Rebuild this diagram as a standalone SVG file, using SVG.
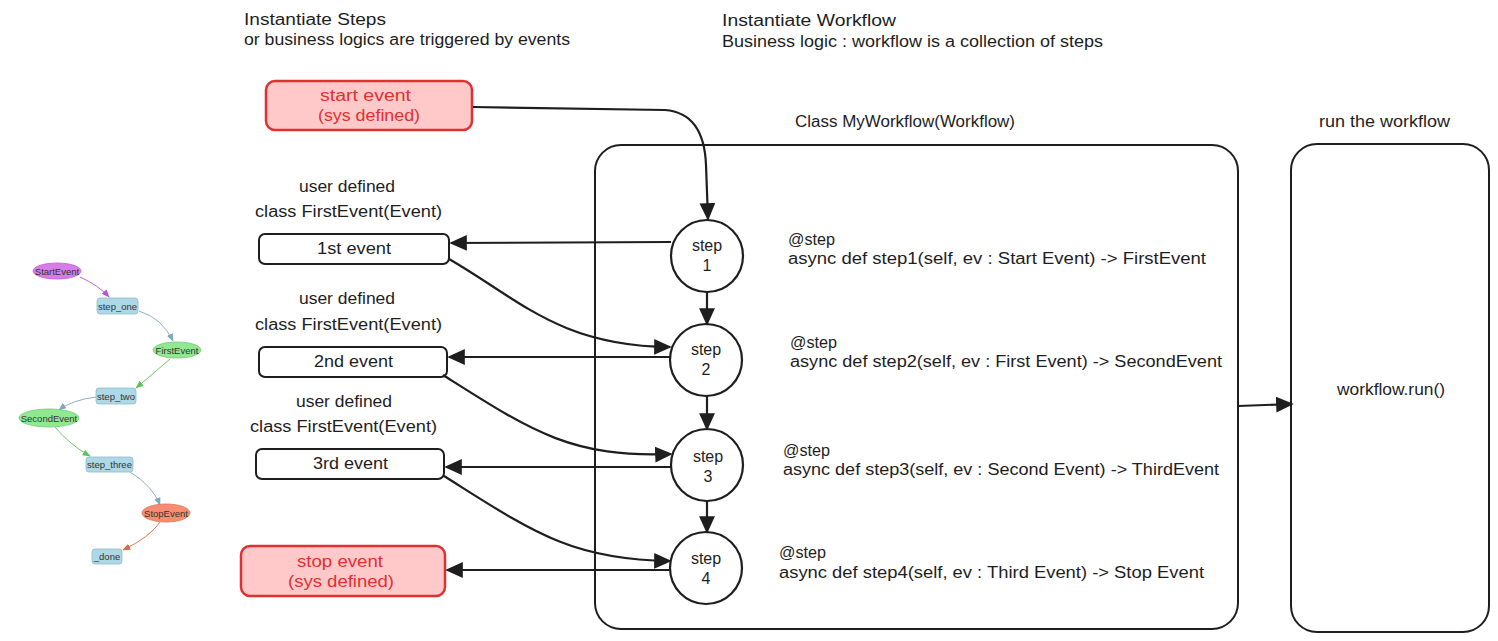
<svg xmlns="http://www.w3.org/2000/svg" width="1498" height="641" viewBox="0 0 1498 641">
<defs>
<style>
.t{font-family:"Liberation Sans","DejaVu Sans",sans-serif;font-size:16px;fill:#1e1e1e}
.c{text-anchor:middle}
.r{fill:#e03131}
.box{fill:#fff;stroke:#1e1e1e;stroke-width:2}
.rbox{fill:#ffc9c9;stroke:#e03131;stroke-width:2.5}
.circ{fill:#fff;stroke:#1e1e1e;stroke-width:2.2}
.con{fill:none;stroke:#1e1e1e;stroke-width:2.2}
.g{font-family:"Liberation Sans","DejaVu Sans",sans-serif;font-size:9.5px;fill:#333;text-anchor:middle}
.gl{fill:none;stroke-width:0.9}
</style>
<marker id="ah" viewBox="0 0 10 10" refX="9" refY="5" markerWidth="8" markerHeight="8" markerUnits="strokeWidth" orient="auto">
<path d="M0,0.5 L10,5 L0,9.5 z" fill="#1e1e1e"/>
</marker>
<marker id="gp" viewBox="0 0 10 10" refX="9" refY="5" markerWidth="9" markerHeight="9" markerUnits="strokeWidth" orient="auto"><path d="M0,1 L10,5 L0,9 z" fill="#b84fd8"/></marker>
<marker id="gb" viewBox="0 0 10 10" refX="9" refY="5" markerWidth="9" markerHeight="9" markerUnits="strokeWidth" orient="auto"><path d="M0,1 L10,5 L0,9 z" fill="#7fa8bd"/></marker>
<marker id="gg" viewBox="0 0 10 10" refX="9" refY="5" markerWidth="9" markerHeight="9" markerUnits="strokeWidth" orient="auto"><path d="M0,1 L10,5 L0,9 z" fill="#5cc25c"/></marker>
<marker id="go" viewBox="0 0 10 10" refX="9" refY="5" markerWidth="9" markerHeight="9" markerUnits="strokeWidth" orient="auto"><path d="M0,1 L10,5 L0,9 z" fill="#e0663f"/></marker>
</defs>
<rect width="1498" height="641" fill="#fff"/>

<!-- headings -->
<g id="heading-steps">
<text class="t" x="244" y="25" textLength="142" lengthAdjust="spacingAndGlyphs">Instantiate Steps</text>
<text class="t" x="244" y="45" textLength="326" lengthAdjust="spacingAndGlyphs">or business logics are triggered by events</text>
</g>
<g id="heading-workflow">
<text class="t" x="722" y="26" textLength="174" lengthAdjust="spacingAndGlyphs">Instantiate  Workflow</text>
<text class="t" x="722" y="47" textLength="381" lengthAdjust="spacingAndGlyphs">Business logic : workflow is a collection of steps</text>
</g>

<!-- workflow container -->
<g id="workflow-box">
<text class="t" x="795" y="127" textLength="220" lengthAdjust="spacingAndGlyphs">Class MyWorkflow(Workflow)</text>
<rect class="box" x="595" y="145" width="643" height="484" rx="26"/>
<text class="t" x="788" y="245" textLength="47" lengthAdjust="spacingAndGlyphs">@step</text>
<text class="t" x="788" y="264" textLength="418" lengthAdjust="spacingAndGlyphs">async def step1(self, ev : Start Event) -> FirstEvent</text>
<text class="t" x="790" y="348" textLength="47" lengthAdjust="spacingAndGlyphs">@step</text>
<text class="t" x="790" y="367" textLength="432" lengthAdjust="spacingAndGlyphs">async def step2(self, ev : First Event) -> SecondEvent</text>
<text class="t" x="783" y="456" textLength="47" lengthAdjust="spacingAndGlyphs">@step</text>
<text class="t" x="783" y="475" textLength="436" lengthAdjust="spacingAndGlyphs">async def step3(self, ev : Second Event) -> ThirdEvent</text>
<text class="t" x="779" y="558" textLength="47" lengthAdjust="spacingAndGlyphs">@step</text>
<text class="t" x="779" y="578" textLength="425" lengthAdjust="spacingAndGlyphs">async def step4(self, ev : Third Event) -> Stop Event</text>
</g>

<g id="run-box">
<text class="t" x="1319" y="127" textLength="131" lengthAdjust="spacingAndGlyphs">run the workflow</text>
<rect class="box" x="1291" y="144" width="198" height="488" rx="26"/>
<text class="t" x="1337" y="395" textLength="108" lengthAdjust="spacingAndGlyphs">workflow.run()</text>
</g>

<!-- event boxes -->
<g id="start-event">
<rect class="rbox" x="266" y="81" width="206" height="49" rx="9"/>
<text class="t r" x="320" y="101" textLength="91" lengthAdjust="spacingAndGlyphs">start event</text>
<text class="t r" x="318" y="121" textLength="102" lengthAdjust="spacingAndGlyphs">(sys defined)</text>
</g>
<g id="first-event">
<text class="t" x="299" y="192" textLength="96" lengthAdjust="spacingAndGlyphs">user defined</text>
<text class="t" x="255" y="217" textLength="187" lengthAdjust="spacingAndGlyphs">class FirstEvent(Event)</text>
<rect class="box" x="259" y="234" width="190" height="30" rx="6"/>
<text class="t" x="317" y="254" textLength="74" lengthAdjust="spacingAndGlyphs">1st event</text>
</g>
<g id="second-event">
<text class="t" x="299" y="304" textLength="96" lengthAdjust="spacingAndGlyphs">user defined</text>
<text class="t" x="255" y="330" textLength="187" lengthAdjust="spacingAndGlyphs">class FirstEvent(Event)</text>
<rect class="box" x="259" y="347" width="188" height="30" rx="6"/>
<text class="t" x="314" y="367" textLength="79" lengthAdjust="spacingAndGlyphs">2nd event</text>
</g>
<g id="third-event">
<text class="t" x="296" y="407" textLength="96" lengthAdjust="spacingAndGlyphs">user defined</text>
<text class="t" x="250" y="432" textLength="187" lengthAdjust="spacingAndGlyphs">class FirstEvent(Event)</text>
<rect class="box" x="256" y="449" width="188" height="30" rx="6"/>
<text class="t" x="313" y="469" textLength="75" lengthAdjust="spacingAndGlyphs">3rd event</text>
</g>
<g id="stop-event">
<rect class="rbox" x="241" y="546" width="204" height="50" rx="9"/>
<text class="t r" x="297" y="567" textLength="86" lengthAdjust="spacingAndGlyphs">stop event</text>
<text class="t r" x="288" y="587" textLength="106" lengthAdjust="spacingAndGlyphs">(sys defined)</text>
</g>

<!-- step circles -->
<g id="step1"><circle class="circ" cx="707" cy="256" r="36"/><text class="t c" x="707" y="251">step</text><text class="t c" x="707" y="271">1</text></g>
<g id="step2"><circle class="circ" cx="706" cy="360" r="36"/><text class="t c" x="706" y="355">step</text><text class="t c" x="706" y="375">2</text></g>
<g id="step3"><circle class="circ" cx="707" cy="465" r="36"/><text class="t c" x="708" y="462">step</text><text class="t c" x="708" y="482">3</text></g>
<g id="step4"><circle class="circ" cx="706" cy="568" r="36"/><text class="t c" x="706" y="564">step</text><text class="t c" x="706" y="584">4</text></g>

<!-- connectors -->
<g id="connectors">
<path class="con" marker-end="url(#ah)" d="M473 107 L665 110 Q704 113 706 165 L708 219"/>
<path class="con" marker-end="url(#ah)" d="M671 242 L451 243"/>
<path class="con" marker-end="url(#ah)" d="M449 259 C520 300 560 346 670 347"/>
<path class="con" marker-end="url(#ah)" d="M670 357 L449 357"/>
<path class="con" marker-end="url(#ah)" d="M443 375 C530 430 570 458 671 454"/>
<path class="con" marker-end="url(#ah)" d="M671 467 L446 467"/>
<path class="con" marker-end="url(#ah)" d="M444 476 C530 530 570 560 670 561"/>
<path class="con" marker-end="url(#ah)" d="M670 570 L447 570"/>
<path class="con" marker-end="url(#ah)" d="M707 292 L707 324"/>
<path class="con" marker-end="url(#ah)" d="M707 396 L707 429"/>
<path class="con" marker-end="url(#ah)" d="M707 501 L707 532"/>
<path class="con" marker-end="url(#ah)" d="M1238 406 L1292 404"/>
</g>

<!-- small graph -->
<g id="g-connectors">
<path class="gl" stroke="#b84fd8" marker-end="url(#gp)" d="M80 277 Q98 285 109 297"/>
<path class="gl" stroke="#7fa8bd" marker-end="url(#gb)" d="M139 311 Q162 318 173 341"/>
<path class="gl" stroke="#5cc25c" marker-end="url(#gg)" d="M170 359 Q155 372 136 388"/>
<path class="gl" stroke="#7fa8bd" marker-end="url(#gb)" d="M96 397 Q72 400 59 410"/>
<path class="gl" stroke="#5cc25c" marker-end="url(#gg)" d="M55 427 Q70 445 90 456"/>
<path class="gl" stroke="#7fa8bd" marker-end="url(#gb)" d="M130 472 Q152 485 160 505"/>
<path class="gl" stroke="#e0663f" marker-end="url(#go)" d="M160 522 Q150 537 123 550"/>
</g>
<g id="g-start"><ellipse cx="57" cy="271" rx="24" ry="8" fill="#d87ce6" stroke="#c060d8" stroke-width="0.8"/><text class="g" x="57" y="274.5">StartEvent</text></g>
<g id="g-step-one"><rect x="97" y="298" width="41" height="16" rx="3" fill="#add8e6" stroke="#8fbccc" stroke-width="0.8"/><text class="g" x="117.5" y="309.5">step_one</text></g>
<g id="g-first"><ellipse cx="177" cy="350" rx="24" ry="8" fill="#90e890" stroke="#72cc72" stroke-width="0.8"/><text class="g" x="177" y="353.5">FirstEvent</text></g>
<g id="g-step-two"><rect x="96" y="388" width="40" height="16" rx="3" fill="#add8e6" stroke="#8fbccc" stroke-width="0.8"/><text class="g" x="116" y="399.5">step_two</text></g>
<g id="g-second"><ellipse cx="49" cy="418" rx="30" ry="9" fill="#90e890" stroke="#72cc72" stroke-width="0.8"/><text class="g" x="49" y="421.5">SecondEvent</text></g>
<g id="g-step-three"><rect x="86" y="457" width="47" height="15" rx="3" fill="#add8e6" stroke="#8fbccc" stroke-width="0.8"/><text class="g" x="109.5" y="468">step_three</text></g>
<g id="g-stop"><ellipse cx="166" cy="513" rx="24" ry="9" fill="#f88c70" stroke="#e0704f" stroke-width="0.8"/><text class="g" x="166" y="516.5">StopEvent</text></g>
<g id="g-done"><rect x="92" y="549" width="30" height="15" rx="3" fill="#add8e6" stroke="#8fbccc" stroke-width="0.8"/><text class="g" x="107" y="560">_done</text></g>
</svg>
